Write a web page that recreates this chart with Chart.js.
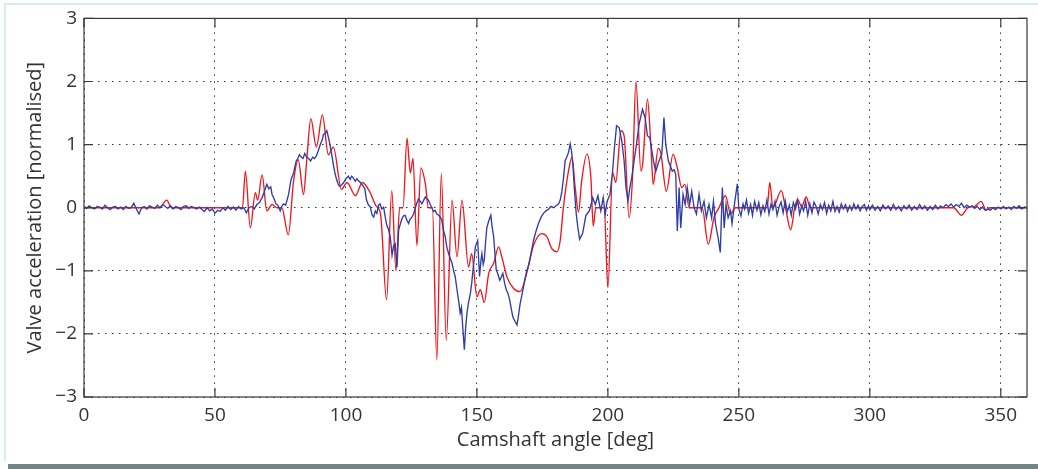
<!DOCTYPE html>
<html>
<head>
<meta charset="utf-8">
<script src="https://cdn.jsdelivr.net/npm/chart.js@4.4.1/dist/chart.umd.min.js"></script>
<style>
  html, body { margin: 0; padding: 0; background: #fff; }
  #frame-top { position: absolute; left: 4px; top: 3px; width: 1034px; height: 2px; background: #d6eef2; }
  #frame-left { position: absolute; left: 4px; top: 3px; width: 2px; height: 458px; background: #d6eef2; }
  #frame-bottom { position: absolute; left: 8px; top: 464px; width: 1030px; height: 5px; background: #748588; }
  #wrap { position: absolute; left: 0; top: 0; width: 1038px; height: 469px; }
</style>
</head>
<body>
<div id="frame-top"></div>
<div id="frame-left"></div>
<div id="frame-bottom"></div>
<div id="wrap"><canvas id="myChart"></canvas></div>
<script>
// tick positions
const xTickValues = [0, 50, 100, 150, 200, 250, 300, 350];
const yTickValues = [-3, -2, -1, 0, 1, 2, 3];

// measured trace, [angle, acceleration]
const blueTrace = [
  [0,0.02],[1,-0.01],[2,0.03],[3,0],[4,-0.02],[5,0.02],[6,0.01],[7,-0.02],[8,0.04],[9,0],
  [10,-0.03],[11,0.01],[12,0.02],[13,-0.02],[14,0.01],[15,-0.03],[16,0.02],[17,-0.01],[18,0],[19,0.07],
  [20,-0.02],[21,-0.1],[22,0],[23,0.02],[24,-0.02],[25,0.03],[26,0.01],[27,-0.01],[28,0.04],[29,0],
  [30,0.05],[31,0.02],[32,-0.01],[33,0.03],[34,-0.02],[35,0.02],[36,0],[37,-0.03],[38,0.02],[39,0.03],
  [40,-0.01],[41,0.02],[42,0],[43,-0.02],[44,0.01],[45,-0.03],[46,-0.06],[47,0],[48,-0.05],[49,-0.02],
  [50,-0.09],[51,-0.04],[52,-0.06],[53,0],[54,-0.04],[55,0.02],[56,-0.03],[57,0.01],[58,-0.04],[59,0.02],
  [60,-0.02],[61,0],[62,-0.08],[63,0],[64,0.02],[65,-0.02],[66,0.05],[67,0.08],[68,0.16],[68.8,0.25],
  [69.8,0.37],[70.6,0.3],[71.3,0.33],[71.8,0.21],[72.5,0.15],[73.3,0.06],[74,0.04],[74.9,-0.05],[75.5,0.02],[76.1,0.06],
  [77,0.04],[78.1,0.21],[79,0.44],[80,0.55],[81,0.74],[81.6,0.78],[82.2,0.84],[83,0.8],[83.6,0.78],[84.3,0.86],
  [85,0.8],[85.8,0.78],[86.5,0.74],[87.3,0.8],[88,0.78],[88.7,0.82],[89.4,0.9],[90.2,1.0],[91,1.08],[91.4,1.16],
  [92.1,1.18],[92.7,1.22],[93.3,1.12],[93.9,1.0],[94.5,0.86],[95.2,0.68],[95.8,0.55],[96.4,0.45],[97,0.38],[97.5,0.34],
  [98.3,0.36],[99,0.39],[100,0.46],[100.9,0.5],[101.6,0.45],[102.2,0.5],[102.8,0.47],[103.6,0.42],[104.2,0.46],[104.7,0.43],
  [105.5,0.4],[106.5,0.35],[107.2,0.3],[107.8,0.13],[108.5,0.05],[109.3,0.01],[110,-0.12],[110.6,-0.15],[111.2,-0.05],[111.8,-0.09],
  [112.4,0.04],[113,0.06],[113.7,-0.02],[114.4,0.01],[115,-0.15],[115.6,-0.28],[116.3,-0.35],[116.9,-0.46],[117.6,-0.75],[118.2,-0.6],
  [118.8,-0.57],[119.5,-0.94],[120.1,-0.36],[120.8,-0.25],[121.4,-0.17],[122,-0.13],[122.6,-0.12],[123.3,-0.2],[123.9,-0.25],[124.5,-0.18],
  [125.2,-0.15],[125.8,-0.1],[126.5,0],[127.1,0.08],[127.7,0.14],[128.4,0.1],[129,0.06],[129.7,0.12],[130.3,0.17],[130.9,0.14],
  [131.5,0.12],[132.2,0.05],[132.8,0],[133.4,-0.06],[134,-0.04],[134.7,-0.1],[135.4,-0.12],[136,-0.15],[136.6,-0.2],[137.2,-0.35],
  [137.9,-0.46],[138.5,-0.62],[139.2,-0.73],[139.8,-0.8],[140.5,-0.88],[141.1,-1.0],[141.7,-1.09],[142.6,-1.36],[143.1,-1.5],[143.6,-1.67],
  [144.1,-1.58],[144.6,-1.9],[145.2,-2.25],[145.7,-1.9],[146.2,-1.67],[146.8,-1.5],[147.5,-1.36],[148,-1.2],[148.5,-0.99],[149,-0.8],
  [149.4,-0.62],[150.3,-0.52],[151,-1.09],[151.5,-0.85],[151.9,-0.73],[152.4,-0.9],[152.8,-0.83],[153.3,-0.55],[153.8,-0.31],[154.6,-0.2],
  [155.3,-0.12],[155.8,-0.3],[156.4,-0.46],[156.9,-0.75],[157.4,-0.99],[158,-1.05],[158.7,-1.15],[159.3,-1.1],[159.9,-1.04],[160.6,-1.2],
  [161.2,-1.3],[161.8,-1.35],[162.5,-1.46],[163.1,-1.6],[163.7,-1.73],[164.5,-1.8],[165.3,-1.86],[165.9,-1.7],[166.5,-1.52],[167.1,-1.4],
  [167.8,-1.25],[168.5,-1.1],[169.1,-0.99],[169.8,-0.9],[170.4,-0.78],[171,-0.65],[171.6,-0.52],[172.5,-0.38],[173.5,-0.25],[174.5,-0.15],
  [175.4,-0.09],[176.4,-0.05],[177.4,-0.02],[178.3,0.02],[179.3,0],[180.2,0.03],[181.2,0.06],[181.8,0.12],[182.4,0.25],[183,0.45],
  [183.7,0.75],[184.3,0.8],[185,0.88],[185.6,1.01],[186.1,0.9],[186.6,0.7],[187.2,0.3],[187.9,-0.09],[188.5,-0.3],[189.2,-0.5],
  [190.4,-0.4],[191.6,-0.12],[192.9,-0.05],[193.6,0.05],[194.2,0.16],[195.2,0.05],[196.2,0.19],[196.8,0.05],[197.3,-0.05],[198.2,0.16],
  [199,-0.1],[199.7,0.1],[200.8,0.21],[201.8,0.58],[202.5,0.95],[203.3,1.3],[204.3,1.27],[205.3,1.06],[206.2,0.74],[206.9,0.32],
  [207.7,0.11],[208.4,0.32],[209.1,0.48],[210,0.74],[210.9,1.0],[211.9,1.32],[213.2,1.56],[214.2,1.43],[215.1,1.14],[216,1.11],
  [217,0.85],[217.6,0.7],[218.3,0.58],[219.5,0.74],[220.6,0.85],[221.4,1.43],[222.1,1.0],[223.1,0.74],[224.6,0.58],[225.3,0.6],
  [225.9,0.53],[226.5,-0.37],[227.2,0.32],[227.8,-0.32],[228.7,0.21],[229.5,0.05],[230.3,0.32],[231.2,0.05],[232,0.26],[232.9,0],
  [233.8,-0.1],[234.8,0.21],[235.7,-0.05],[236.7,0.1],[237.6,-0.16],[238.6,0.05],[239.6,-0.16],[240.3,0.1],[241.1,-0.26],[242.1,-0.48],
  [242.9,-0.71],[243.7,0.32],[244.4,-0.32],[245.1,0.05],[245.9,-0.16],[246.8,-0.05],[247.4,-0.25],[248.3,0.05],[249.4,0.38],[250,-0.02],
  [250.8,-0.13],[251.6,0.06],[252.2,-0.02],[252.9,0.12],[253.7,-0.09],[254.5,0.05],[255.2,-0.12],[256,0.1],[256.9,-0.04],[257.6,0.08],
  [258.4,-0.11],[259.2,0.03],[259.9,-0.06],[260.7,0.12],[261.5,-0.1],[262.3,0.06],[263,-0.03],[263.8,0.1],[264.6,-0.12],[265.4,0.02],
  [266.1,0.09],[266.9,-0.08],[267.7,0.11],[268.5,-0.06],[269.3,0.04],[270,-0.12],[270.8,0.08],[271.6,-0.02],[272.4,0.12],[273.2,-0.1],
  [274,0.03],[274.7,-0.05],[275.5,0.1],[276.3,-0.12],[277.1,0.06],[277.9,-0.08],[278.7,0.09],[279.5,0.02],[280.3,-0.1],[281.1,0.05],
  [281.9,-0.03],[282.7,0.08],[283.5,-0.09],[284.3,0.04],[285.1,-0.05],[285.9,0.1],[286.7,-0.06],[287.5,0.02],[288.3,-0.07],[289.1,0.06],
  [289.9,-0.02],[290.7,0.05],[291.5,-0.06],[292.3,0.03],[293.1,-0.04],[293.9,0.06],[294.7,-0.02],[295.5,0.04],[296.3,-0.05],[297.1,0.02],
  [297.9,0.05],[298.7,-0.04],[299.5,0.03],[300,-0.03],[301,0.04],[302,-0.04],[303,0.02],[304,-0.05],[305,0.04],[306,-0.02],
  [307,0.03],[308,-0.04],[309,0.05],[310,-0.03],[311,0.02],[312,-0.05],[313,0.03],[314,-0.02],[315,0.04],[316,-0.04],
  [317,0.02],[318,-0.03],[319,0.05],[320,-0.02],[321,0.03],[322,-0.04],[323,0.02],[324,-0.03],[325,0.04],[326,-0.02],
  [327,0.03],[328,0],[329,0.05],[330,0.02],[331,0.06],[332,0.01],[333,0.05],[334,0.02],[335,0.07],[336,0],
  [337,0.04],[338,0.01],[339,0.03],[340,-0.01],[341,0.02],[342,-0.03],[343,0.01],[344,-0.04],[345,-0.02],[346,-0.04],
  [347,0],[348,-0.03],[349,0.01],[350,-0.02],[351,0.02],[352,-0.02],[353,0.01],[354,-0.03],[355,0.02],[356,-0.01],
  [357,0.03],[358,-0.02],[359,0.01],[360,0]
];

// model trace (smooth), extrema
const redTrace = [
  [0,0],[29,0],[31.5,0.12],[33.5,0],[60.5,0],[61.6,0.58],[63.5,-0.32],[65.4,0.24],[66.3,0.12],[68,0.52],
  [69.8,-0.05],[71.8,0.05],[73.6,0],[75.5,0],[78,-0.43],[80,0.42],[81.8,0.76],[83.8,0.21],[85,0.74],[86.6,1.41],
  [88.7,0.96],[91,1.47],[93.3,0.84],[95.2,0.96],[98.3,0.29],[100.4,0.4],[103.6,0.19],[106.3,0.4],[109,0.26],[111.6,0.02],
  [113.2,-0.1],[115.5,-1.46],[117.5,0.27],[119.1,-1.0],[120.5,0],[121.8,0],[123.3,1.1],[124.6,0.55],[125.6,0.78],[127.1,-0.6],
  [128.6,0.63],[130.3,0.38],[131.5,0],[133,0],[134.7,-2.41],[136.4,0.54],[138.3,-2.1],[140.5,0.12],[142.4,-0.78],[144.3,0.12],
  [146.8,-0.94],[148,-0.73],[150,-1.41],[151.3,-1.3],[152.8,-1.5],[154.5,-1.04],[156.4,-0.88],[158.3,-0.62],[159.5,-0.78],[161.5,-1.1],
  [164,-1.28],[166.5,-1.33],[169,-1.04],[171.6,-0.6],[174.8,-0.41],[176.7,-0.46],[178.6,-0.65],[180.5,-0.7],[181.8,-0.52],[183,0],
  [185,0.59],[186.3,0.8],[187.5,0.33],[188.8,-0.07],[190,0.43],[192,0.85],[193.5,0.48],[194.4,-0.29],[195.4,0],[198.6,0],
  [200,-1.27],[201.8,0.56],[203,0.4],[205,1.22],[206.2,1.14],[208.1,-0.16],[209.4,0.48],[210.7,2.0],[212.6,0.58],[213.3,0.7],
  [215.1,1.72],[216.4,1.0],[217.3,0.37],[219.2,0.94],[220.2,0.87],[222.3,0.26],[224.9,0.85],[226.5,0.63],[228.2,0.32],[229.4,0.37],
  [231,0],[236,0],[238.3,-0.58],[240.5,-0.16],[242.4,0],[244.9,0.19],[246.8,-0.1],[248.7,0],[260.8,0],[261.8,0.4],
  [263,0],[266.2,0.27],[267.8,0],[269.8,-0.35],[271.3,0],[272.4,0.13],[274,0.02],[275.7,0.17],[277.3,0],[332,0],
  [334.9,-0.12],[337.5,0],[340,0.02],[342.5,0.1],[344.4,-0.04],[346,0],[360,0]
];

const toPoints = arr => arr.map(p => ({ x: p[0], y: p[1] }));
const minus = v => String(v).replace('-', '\u2212');

const frameTicks = {
  id: 'frameTicks',
  afterDatasetsDraw(chart) {
    const { ctx, chartArea: a, scales } = chart;
    ctx.save();
    ctx.strokeStyle = '#3a3a3a';
    ctx.lineWidth = 1.2;
    ctx.beginPath();
    xTickValues.forEach(v => {
      const px = scales.x.getPixelForValue(v);
      ctx.moveTo(px, a.bottom); ctx.lineTo(px, a.bottom - 9);
      ctx.moveTo(px, a.top); ctx.lineTo(px, a.top + 9);
    });
    yTickValues.forEach(v => {
      const py = scales.y.getPixelForValue(v);
      ctx.moveTo(a.left, py); ctx.lineTo(a.left + 9, py);
      ctx.moveTo(a.right, py); ctx.lineTo(a.right - 9, py);
    });
    ctx.stroke();
    ctx.strokeRect(a.left, a.top, a.right - a.left, a.bottom - a.top);
    ctx.restore();
  }
};

const tickFont = { family: 'Open Sans', size: 19 };
const titleFont = { family: 'Open Sans', size: 20 };

new Chart(document.getElementById('myChart').getContext('2d'), {
  type: 'line',
  data: {
    datasets: [
      {
        label: 'measured',
        data: toPoints(blueTrace),
        borderColor: '#2e3ea6',
        borderWidth: 1.35,
        pointRadius: 0,
        tension: 0
      },
      {
        label: 'model',
        data: toPoints(redTrace),
        borderColor: '#f2161b',
        borderWidth: 1.35,
        pointRadius: 0,
        cubicInterpolationMode: 'monotone'
      }
    ]
  },
  options: {
    responsive: true,
    maintainAspectRatio: false,
    animation: false,
    layout: { padding: { left: 0, right: 11, top: 17, bottom: 0 } },
    plugins: { legend: { display: false }, tooltip: { enabled: false } },
    scales: {
      x: {
        type: 'linear',
        min: 0,
        max: 360,
        afterBuildTicks: s => { s.ticks = xTickValues.map(v => ({ value: v })); },
        afterFit: s => { s.height = 72; },
        ticks: { font: tickFont, color: '#333', padding: 7, maxRotation: 0, callback: v => minus(v) },
        grid: { color: '#333', lineWidth: 1, drawTicks: false },
        border: { display: false, dash: [1.5, 5.5] },
        title: { display: true, text: 'Camshaft angle [deg]', font: titleFont, color: '#333', padding: { top: 0, bottom: 17 } }
      },
      y: {
        min: -3,
        max: 3,
        afterBuildTicks: s => { s.ticks = yTickValues.map(v => ({ value: v })); },
        afterFit: s => { s.width = 84; },
        ticks: { font: tickFont, color: '#333', padding: 7, callback: v => minus(v) },
        grid: { color: '#333', lineWidth: 1, drawTicks: false },
        border: { display: false, dash: [1.5, 5.5] },
        title: { display: true, text: 'Valve acceleration [normalised]', font: titleFont, color: '#333', padding: { top: 23, bottom: 0 } }
      }
    }
  },
  plugins: [frameTicks]
});
</script>
</body>
</html>
